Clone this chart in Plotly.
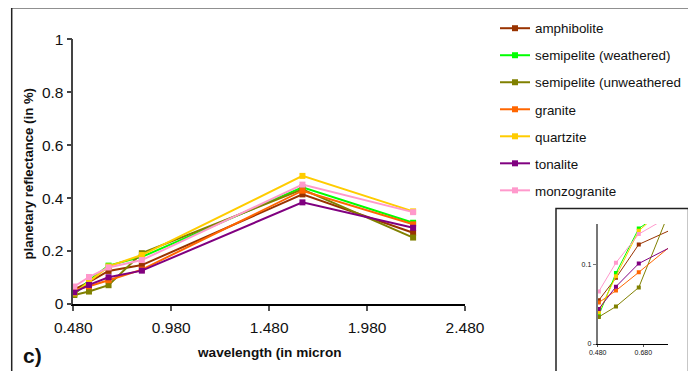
import plotly.graph_objects as go

W, H = 696, 371
OFF = 8  # page body margin offset

wavelength = [0.485, 0.56, 0.66, 0.83, 1.65, 2.215]

names = ["amphibolite", "semipelite (weathered)", "semipelite (unweathered",
         "granite", "quartzite", "tonalite", "monzogranite"]

amphibolite = [0.055, 0.083, 0.125, 0.147, 0.414, 0.269]
semipelite_weathered = [0.036, 0.089, 0.145, 0.178, 0.441, 0.307]
semipelite_unweathered = [0.034, 0.047, 0.071, 0.192, 0.433, 0.251]
granite = [0.052, 0.067, 0.090, 0.130, 0.428, 0.301]
quartzite = [0.040, 0.085, 0.142, 0.185, 0.484, 0.350]
tonalite = [0.044, 0.072, 0.101, 0.126, 0.384, 0.288]
monzogranite = [0.066, 0.102, 0.138, 0.166, 0.451, 0.347]

series = [amphibolite, semipelite_weathered, semipelite_unweathered,
          granite, quartzite, tonalite, monzogranite]
colors = ["#993300", "#00FF00", "#808000", "#FF6600", "#FFCC00", "#800080", "#FF99CC"]

x_ticks = [0.48, 0.98, 1.48, 1.98, 2.48]
y_ticks = [0, 0.2, 0.4, 0.6, 0.8, 1]
inset_x_ticks = [0.48, 0.68]
inset_y_ticks = [0, 0.1]

FONT = "Arial, Liberation Sans, sans-serif"

fig = go.Figure()

for name, vals, col in zip(names, series, colors):
    fig.add_trace(go.Scatter(
        x=wavelength, y=vals, name=name, mode="lines+markers",
        line=dict(color=col, width=2),
        marker=dict(symbol="square", size=6, color=col),
        cliponaxis=False, legendgroup=name,
        xaxis="x", yaxis="y",
    ))

for name, vals, col in zip(names, series, colors):
    fig.add_trace(go.Scatter(
        x=wavelength, y=vals, name=name, mode="lines+markers",
        line=dict(color=col, width=1),
        marker=dict(symbol="square", size=4, color=col),
        showlegend=False, xaxis="x2", yaxis="y2",
    ))

def px_x(p):
    return (p - OFF) / W

def px_y(p):
    return (H - (p - OFF)) / H

fig.update_layout(
    width=W, height=H,
    margin=dict(l=0, r=0, t=0, b=0, autoexpand=False),
    paper_bgcolor="white", plot_bgcolor="white",
    font=dict(family=FONT, color="#111"),
    xaxis=dict(
        domain=[px_x(73.3), px_x(465)], range=[0.48, 2.48],
        tickvals=x_ticks, tickformat=".3f",
        showgrid=False, zeroline=False, automargin=False,
        showline=True, linecolor="#000", linewidth=1.5,
        ticks="outside", ticklen=5, tickcolor="#555", tickwidth=1.5,
        ticklabelstandoff=4,
        tickfont=dict(size=15.5, family=FONT, color="#111"),
        anchor="y",
    ),
    yaxis=dict(
        domain=[px_y(304), px_y(39.3)], range=[0, 1],
        tickvals=y_ticks,
        showgrid=False, zeroline=False, automargin=False,
        showline=True, linecolor="#444", linewidth=1.5,
        ticks="outside", ticklen=5, tickcolor="#444", tickwidth=1.5,
        tickfont=dict(size=15.5, family=FONT, color="#111"),
        anchor="x",
    ),
    xaxis2=dict(
        domain=[px_x(597.7), px_x(668)], range=[0.48, 0.788],
        tickvals=inset_x_ticks, tickformat=".3f",
        showgrid=False, zeroline=False, automargin=False,
        showline=True, linecolor="#000", linewidth=1,
        ticks="outside", ticklen=2, tickcolor="#555",
        tickfont=dict(size=7, family=FONT, color="#111"),
        anchor="y2",
    ),
    yaxis2=dict(
        domain=[px_y(344), px_y(224)], range=[0, 0.1506],
        tickvals=inset_y_ticks,
        showgrid=False, zeroline=False, automargin=False,
        showline=True, linecolor="#777", linewidth=2,
        ticks="outside", ticklen=3, tickcolor="#777",
        tickfont=dict(size=7, family=FONT, color="#111"),
        anchor="x2",
    ),
    legend=dict(
        x=px_x(495), y=px_y(13), xanchor="left", yanchor="top",
        font=dict(size=13.4, family=FONT, color="#111"),
        itemwidth=30, tracegroupgap=6.6,
        bgcolor="rgba(0,0,0,0)",
    ),
    shapes=[
        dict(type="rect", xref="paper", yref="paper",
             x0=px_x(11.7), x1=px_x(689), y0=px_y(390), y1=px_y(7.8),
             line=dict(color="#222", width=1.5), layer="below"),
        dict(type="rect", xref="paper", yref="paper",
             x0=px_x(556), x1=px_x(688.5), y0=px_y(390), y1=px_y(208.5),
             line=dict(color="#222", width=1.5), fillcolor="white", layer="below"),
    ],
    annotations=[
        dict(text="<b>planetary reflectance (in %)</b>", textangle=-90,
             x=px_x(28), y=px_y(173.5), xref="paper", yref="paper",
             xanchor="center", yanchor="middle",
             showarrow=False, font=dict(size=13.2, family=FONT, color="#111")),
        dict(text="<b>wavelength (in micron</b>",
             x=px_x(269.5), y=px_y(352), xref="paper", yref="paper",
             xanchor="center", yanchor="middle",
             showarrow=False, font=dict(size=13.6, family=FONT, color="#111")),
        dict(text="<b>c)</b>",
             x=px_x(32), y=px_y(355), xref="paper", yref="paper",
             xanchor="center", yanchor="middle",
             showarrow=False, font=dict(size=21, family=FONT, color="#111")),
    ],
)

fig.write_html("out.html")
